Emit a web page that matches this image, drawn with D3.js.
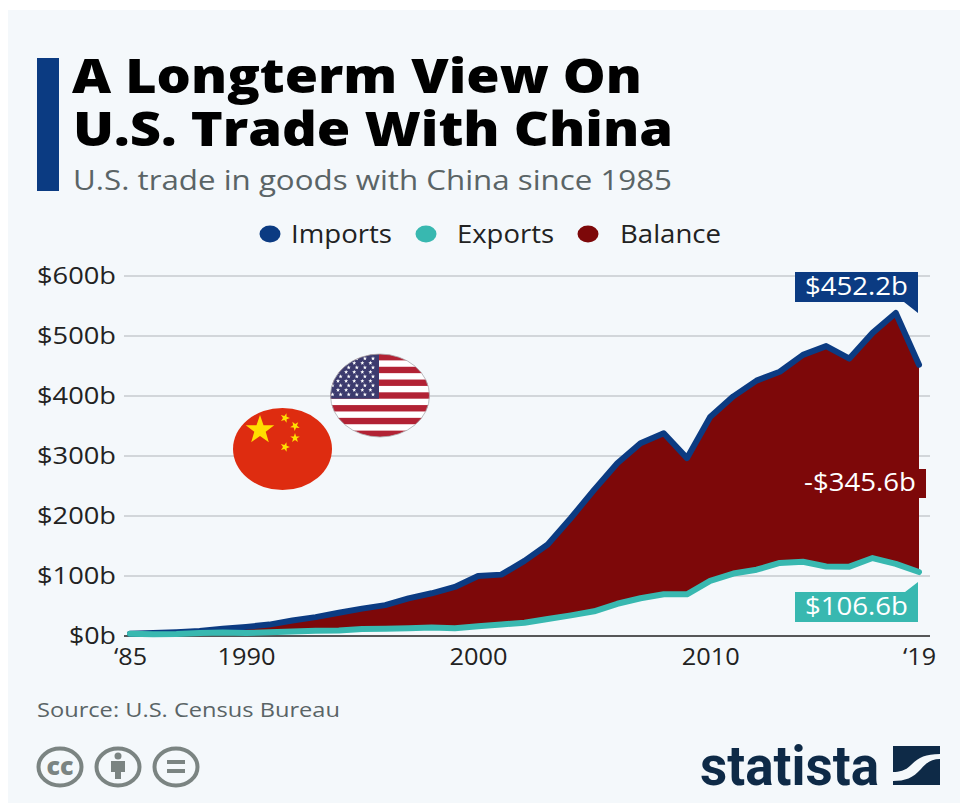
<!DOCTYPE html>
<html><head><meta charset="utf-8">
<script src="https://cdn.jsdelivr.net/npm/d3@7/dist/d3.min.js"></script>
<style>html,body{margin:0;padding:0;background:#fff;overflow:hidden}svg{display:block}text{font-family:"Open Sans",sans-serif}</style>
</head><body><div id="c"></div>
<script>
const years = d3.range(1985, 2020);
const imports = [3.9,4.8,6.3,8.5,12,15.2,19,25.7,31.5,38.8,45.6,51.5,62.6,71.2,81.8,100,102.3,125.2,152.4,196.7,243.5,287.8,321.4,337.8,296.4,364.9,399.4,425.6,440.4,468.5,483.2,462.4,505.2,538.5,452.2];
const exports_ = [3.9,3.1,3.5,5,5.8,4.8,6.3,7.4,8.8,9.3,11.8,12,12.9,14.2,13.1,16.2,19.2,22.1,28.4,34.4,41.2,53.7,62.9,69.7,69.5,91.9,104.1,110.5,121.7,123.7,115.9,115.6,129.9,120.3,106.6];
const yTicks = [0,100,200,300,400,500,600];
const xTicks = [1985,1990,2000,2010,2019];
const xTickLabels = {1985:"‘85",1990:"1990",2000:"2000",2010:"2010",2019:"‘19"};
const legendNames = ["Imports","Exports","Balance"];
const NAVY="#0b3b82", TEAL="#38b8b0", RED="#7d0809", GREY="#5a6466";
const legendColors = [NAVY,TEAL,RED];

const svg = d3.select("#c").append("svg").attr("width",960).attr("height",803);
svg.append("rect").attr("x",8).attr("y",10).attr("width",952).attr("height",793).attr("fill","#f4f8fb");

function txt(g,x,y,s,size,fill,len,opt={}){
  const t=g.append("text").attr("x",x).attr("y",y).text(s).attr("font-size",size).attr("fill",fill)
    .attr("font-weight",opt.weight||400).attr("text-anchor",opt.anchor||"start");
  if(len) t.attr("textLength",len).attr("lengthAdjust","spacingAndGlyphs");
  if(opt.family) t.style("font-family",opt.family);
  return t;
}
// Header
svg.append("rect").attr("x",37).attr("y",58).attr("width",22).attr("height",133).attr("fill",NAVY);
txt(svg,72,93,"A Longterm View On",48,"#000",570,{weight:800});
txt(svg,73,146,"U.S. Trade With China",48,"#000",600,{weight:800});
txt(svg,73,190,"U.S. trade in goods with China since 1985",27,GREY,599);

// Legend
const legendCx=[270,426,588], legendTx=[291,457,620], legendLen=[101,97,101];
legendNames.forEach((n,i)=>{
  svg.append("ellipse").attr("cx",legendCx[i]).attr("cy",234).attr("rx",10.5).attr("ry",8.5).attr("fill",legendColors[i]);
  txt(svg,legendTx[i],243,n,25,"#222",legendLen[i]);
});

// Scales and axes
const x=d3.scaleLinear().domain([1985,2019]).range([130,919]);
const y=d3.scaleLinear().domain([0,600]).range([636,276]);
const yAxis=svg.append("g").attr("transform","translate(124,0)")
  .call(d3.axisLeft(y).tickValues(yTicks).tickSize(0).tickPadding(8).tickFormat(d=>"$"+d+"b"));
yAxis.select(".domain").remove();
yAxis.selectAll("text").attr("font-size",23).attr("fill","#222")
  .style("font-family",'"Open Sans",sans-serif')
  .attr("textLength",d=>d===0?47:79).attr("lengthAdjust","spacingAndGlyphs");
svg.append("g").selectAll("line").data(yTicks).join("line")
  .attr("x1",124).attr("x2",930).attr("y1",d=>y(d)).attr("y2",d=>y(d))
  .attr("stroke",d=>d===0?"#222":"#d2d6da").attr("stroke-width",d=>d===0?1.5:2);
const xAxis=svg.append("g").attr("transform","translate(0,636)")
  .call(d3.axisBottom(x).tickValues(xTicks).tickSize(0).tickPadding(12).tickFormat(d=>xTickLabels[d]));
xAxis.select(".domain").remove();
xAxis.selectAll("text").attr("font-size",24).attr("fill","#222")
  .style("font-family",'"Open Sans",sans-serif')
  .attr("textLength",d=>(d===1985||d===2019)?33:58).attr("lengthAdjust","spacingAndGlyphs");

// Flags
const star=(g,cx,cy,r,fill,rot=0)=>{
  const pts=d3.range(10).map(i=>{const a=-Math.PI/2+rot+i*Math.PI/5,R=i%2?r*0.4:r;return [cx+R*Math.cos(a),cy+R*Math.sin(a)].join(",");}).join(" ");
  g.append("polygon").attr("points",pts).attr("fill",fill);
};
const defs=svg.append("defs");
defs.append("clipPath").attr("id","usclip").append("ellipse").attr("cx",380).attr("cy",395.5).attr("rx",49.5).attr("ry",41.5);
const us=svg.append("g").attr("clip-path","url(#usclip)");
us.append("rect").attr("x",330).attr("y",354).attr("width",100).attr("height",83).attr("fill","#fff");
d3.range(0,13,2).forEach(i=>us.append("rect").attr("x",330).attr("y",354+i*83/13).attr("width",100).attr("height",83/13).attr("fill","#b22234"));
us.append("rect").attr("x",330).attr("y",354).attr("width",49).attr("height",44.7).attr("fill","#3c3b6e");
d3.range(9).forEach(r=>{
  const n=r%2?5:6;
  d3.range(n).forEach(c=>star(us,(r%2?338:332.5)+c*8.1,358.5+r*4.5,2.2,"#fff"));
});
svg.append("ellipse").attr("cx",380).attr("cy",395.5).attr("rx",49.5).attr("ry",41.5).attr("fill","none").attr("stroke","#a9a9ad").attr("stroke-width",.8);
svg.append("ellipse").attr("cx",282.5).attr("cy",449).attr("rx",49.5).attr("ry",41).attr("fill","#de2c10");
star(svg,260,430,15,"#ffde00");
[[285,418,.3],[295,426,.7],[295,438,0],[285,447,.3]].forEach(d=>star(svg,d[0],d[1],5,"#ffde00",d[2]));

// Series
const idx=d3.range(years.length);
svg.append("path").attr("d",d3.area().x(i=>x(years[i])).y0(i=>y(exports_[i])).y1(i=>y(imports[i]))(idx)).attr("fill",RED);
const line=v=>d3.line().x(i=>x(years[i])).y(i=>y(v[i]))(idx);
svg.append("path").attr("d",line(imports)).attr("fill","none").attr("stroke",NAVY).attr("stroke-width",6).attr("stroke-linejoin","round").attr("stroke-linecap","round");
svg.append("path").attr("d",line(exports_)).attr("fill","none").attr("stroke",TEAL).attr("stroke-width",6).attr("stroke-linejoin","round").attr("stroke-linecap","round");

// Callouts
svg.append("path").attr("d","M795 272H918V313L904 302H795Z").attr("fill",NAVY);
txt(svg,805,295,"$452.2b",25,"#fff",103,{weight:500});
svg.append("rect").attr("x",918).attr("y",469).attr("width",8).attr("height",29).attr("fill",RED);
txt(svg,804,491,"-$345.6b",25,"#fff",112,{weight:500});
svg.append("path").attr("d","M795 592H905L918 582V622H795Z").attr("fill",TEAL);
txt(svg,805,615,"$106.6b",25,"#fff",103,{weight:500});

// Footer
txt(svg,37,717,"Source: U.S. Census Bureau",20,GREY,303);
const ICON="#7b8482";
[60,118,176].forEach(cx=>svg.append("ellipse").attr("cx",cx).attr("cy",767).attr("rx",21.5).attr("ry",18.5).attr("fill","none").attr("stroke",ICON).attr("stroke-width",4));
txt(svg,60,775,"cc",24,ICON,27,{weight:800,anchor:"middle"});
svg.append("circle").attr("cx",118).attr("cy",756).attr("r",3.5).attr("fill",ICON);
svg.append("path").attr("d","M111 761H125V772H121V779H115V772H111Z").attr("fill",ICON);
svg.append("rect").attr("x",167).attr("y",760).attr("width",18).attr("height",4).attr("fill",ICON);
svg.append("rect").attr("x",167).attr("y",769).attr("width",18).attr("height",4).attr("fill",ICON);

// Logo
txt(svg,700,785,"statista",55,"#0e2a47",179,{weight:700,family:'Roboto,sans-serif'});
svg.append("path").attr("d","M893 746H940V754C925 754 918 758 911 765C905 771 899 772 893 772Z").attr("fill","#0e2a47");
svg.append("path").attr("d","M940 759V785H893V781C905 781 913 778 921 769C927 762 932 759 940 759Z").attr("fill","#0e2a47");
</script></body></html>
